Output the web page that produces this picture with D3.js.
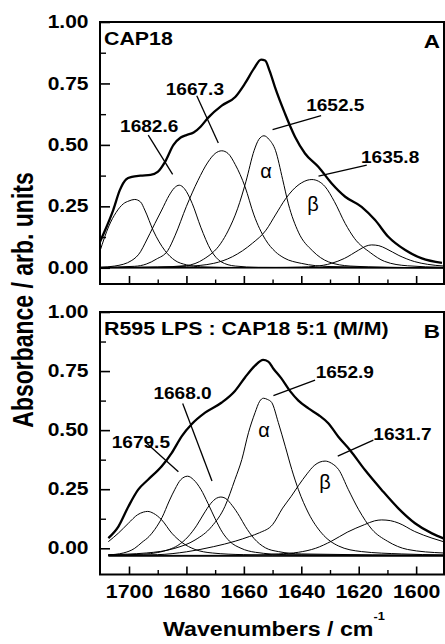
<!DOCTYPE html>
<html>
<head>
<meta charset="utf-8">
<script src="https://cdn.jsdelivr.net/npm/d3@7"></script>
<style>
  body { margin: 0; background: #fff; }
  svg { display: block; }
  text { font-family: "Liberation Sans", Arial, sans-serif; fill: #000; }
</style>
</head>
<body>
<svg id="chart" width="445" height="644"></svg>
<script>
// ---- data (wavenumber, absorbance) ----
const xTicks = [1700, 1680, 1660, 1640, 1620, 1600];
const xMinorTicks = [1690, 1670, 1650, 1630, 1610];
const yTicks = [0, 0.25, 0.5, 0.75, 1.0];
const yMinorTicks = [0.125, 0.375, 0.625, 0.875];

// panel A : CAP18
const envA = [[1710.1,0.106],[1707.7,0.17],[1705.5,0.235],[1703.2,0.316],[1701,0.36],[1699,0.37],[1696,0.375],[1692.5,0.378],[1690,0.39],[1687.5,0.43],[1684.5,0.5],[1682,0.53],[1680,0.54],[1677.5,0.55],[1675,0.575],[1672.5,0.61],[1667.7,0.66],[1663,0.695],[1659.6,0.75],[1656.5,0.81],[1654,0.847],[1652.6,0.843],[1651,0.8],[1649.2,0.736],[1645.7,0.628],[1642.2,0.533],[1638.7,0.465],[1634,0.41],[1629.4,0.343],[1624.7,0.289],[1619,0.248],[1614.3,0.194],[1609.7,0.126],[1603.8,0.072],[1598,0.038],[1591,0.02]];
const bandA1 = [[1710.1,0.068],[1707,0.17],[1704.5,0.225],[1702,0.26],[1700,0.272],[1698,0.278],[1696,0.268],[1694.5,0.235],[1691.5,0.15],[1687.5,0.07],[1684,0.03],[1680,0.012],[1675,0.004],[1660,0.001],[1590.3,0]];
const bandA2 = [[1710.1,0.002],[1705,0.007],[1699,0.03],[1696,0.065],[1694.4,0.1],[1691,0.18],[1688.6,0.235],[1686,0.295],[1684.2,0.325],[1682.5,0.336],[1680.7,0.322],[1678,0.262],[1675,0.165],[1671.5,0.072],[1668,0.025],[1663,0.007],[1655,0.002],[1590.3,0]];
const bandA3 = [[1710.1,0.002],[1698,0.006],[1694,0.015],[1690.5,0.035],[1686.5,0.07],[1684,0.13],[1680,0.25],[1676,0.355],[1672.5,0.43],[1670,0.465],[1667.7,0.476],[1665.5,0.465],[1663,0.42],[1659.6,0.33],[1656.5,0.215],[1652.5,0.115],[1649,0.065],[1646,0.04],[1640,0.018],[1630,0.005],[1590.3,0]];
const bandA4 = [[1710.1,0.001],[1690,0.003],[1680,0.009],[1674,0.035],[1668,0.1],[1665.5,0.15],[1662.2,0.24],[1659.3,0.35],[1656.4,0.478],[1654.8,0.522],[1653,0.537],[1651.2,0.522],[1649,0.478],[1646.5,0.36],[1644.5,0.26],[1641,0.145],[1636,0.068],[1630.5,0.024],[1623,0.007],[1610,0.002],[1590.3,0]];
const bandA5 = [[1710.1,0.001],[1690,0.003],[1680,0.006],[1670.5,0.018],[1664,0.045],[1657,0.1],[1652.3,0.153],[1649,0.215],[1645.5,0.28],[1643,0.316],[1640,0.345],[1638,0.356],[1636.3,0.359],[1634,0.352],[1631.7,0.33],[1628.5,0.27],[1624.7,0.18],[1621.5,0.12],[1616,0.062],[1611,0.026],[1603,0.008],[1590.3,0.002]];
const bandA6 = [[1710.1,0],[1650,0.001],[1640,0.003],[1635,0.006],[1629.5,0.018],[1625,0.038],[1620,0.072],[1617.5,0.088],[1615.5,0.093],[1613,0.09],[1610.5,0.078],[1606,0.05],[1600.5,0.025],[1596,0.014],[1590.3,0.007]];
const baseA = [[1710.1,0],[1590.3,0]];
const peaksA = ['1682.6', '1667.3', '1652.5', '1635.8'];

// panel B : R595 LPS : CAP18 5:1
const envB = [[1707.2,0.043],[1703.7,0.092],[1700.2,0.177],[1696.8,0.248],[1693.3,0.291],[1688.6,0.347],[1685.1,0.404],[1681.6,0.475],[1678.2,0.525],[1673.5,0.574],[1667.7,0.617],[1663.1,0.666],[1659.6,0.723],[1656.1,0.773],[1653.3,0.797],[1651.5,0.79],[1649.7,0.76],[1647,0.72],[1643.9,0.665],[1641,0.625],[1637.5,0.592],[1634,0.564],[1630.6,0.529],[1627.1,0.472],[1623,0.415],[1617.8,0.331],[1612,0.247],[1606.2,0.169],[1600.4,0.106],[1594.5,0.063],[1590.5,0.042]];
const bandB1 = [[1707.2,0.028],[1703.7,0.064],[1700.2,0.106],[1697,0.142],[1695,0.153],[1693.5,0.156],[1691.5,0.148],[1688.6,0.12],[1685.1,0.064],[1681.5,0.024],[1677,-0.005],[1671,-0.02],[1660,-0.027],[1640,-0.03],[1590.5,-0.03]];
const bandB2 = [[1707.2,-0.028],[1702,-0.02],[1698,0],[1695.5,0.025],[1693,0.05],[1691,0.08],[1688.5,0.13],[1686,0.2],[1684,0.25],[1682,0.29],[1679.6,0.305],[1677.5,0.29],[1675,0.25],[1672.5,0.19],[1670,0.125],[1667.5,0.068],[1665,0.03],[1661,0],[1656,-0.017],[1645,-0.027],[1590.5,-0.03]];
const bandB3 = [[1707.2,-0.029],[1695,-0.025],[1690,-0.018],[1686,-0.005],[1683,0.012],[1679.5,0.048],[1676.5,0.095],[1674,0.145],[1671.5,0.19],[1669.5,0.212],[1668,0.217],[1666.5,0.212],[1664,0.18],[1661.5,0.135],[1659.5,0.093],[1656.5,0.042],[1652.5,0.002],[1648,-0.014],[1640,-0.024],[1590.5,-0.03]];
const bandB4 = [[1707.2,-0.027],[1694,-0.02],[1684,0],[1677,0.035],[1671.2,0.092],[1666.6,0.177],[1663.1,0.291],[1660.7,0.376],[1658.4,0.489],[1656.1,0.574],[1654.5,0.622],[1653.2,0.635],[1651.8,0.63],[1650.3,0.617],[1648,0.532],[1645.6,0.432],[1643.3,0.333],[1641,0.248],[1637.5,0.149],[1632.9,0.064],[1627.1,0.01],[1619,-0.014],[1605,-0.024],[1590.5,-0.028]];
const bandB5 = [[1707.2,-0.03],[1690,-0.027],[1680,-0.015],[1670.5,0.007],[1663,0.03],[1658,0.05],[1654.5,0.066],[1650,0.1],[1646.5,0.17],[1643.5,0.22],[1641,0.265],[1638,0.315],[1635.5,0.35],[1633.5,0.365],[1631.7,0.369],[1629.5,0.36],[1627,0.333],[1623.6,0.248],[1620,0.163],[1615.4,0.08],[1610,0.03],[1603,-0.005],[1590.5,-0.02]];
const bandB6 = [[1707.2,-0.03],[1660,-0.03],[1648,-0.024],[1641,-0.017],[1635,0],[1629.5,0.03],[1624,0.068],[1618,0.1],[1614.5,0.116],[1612,0.12],[1609,0.117],[1606,0.106],[1600.5,0.071],[1594.5,0.043],[1590.5,0.028]];
const baseB = [[1707.2,-0.033],[1590.3,-0.033]];
const peaksB = ['1679.5', '1668.0', '1652.9', '1631.7'];

// ---- layout ----
const svg = d3.select('#chart');
const left = 100, right = 444;
const x = d3.scaleLinear().domain([1710.1, 1590.3]).range([left, right]);

const panels = [
  { key: 'A', title: 'CAP18', top: 22, bottom: 284, yDomain: [-0.066, 1.0],
    env: envA, bands: [bandA1, bandA2, bandA3, bandA4, bandA5, bandA6], base: baseA,
    peaks: peaksA,
    // label anchor [wn, abs] and leader line [[wn,abs],[wn,abs]]
    labelPos: [[1703.1,0.554],[1687.2,0.703],[1638.3,0.638],[1619.2,0.425]],
    leaders: [[[1693.3,0.54],[1684.8,0.38]],[[1676.4,0.70],[1668.9,0.508]],[[1650.0,0.562],[1633.1,0.619]],[[1634.0,0.373],[1617.2,0.418]]],
    alpha: [1652.3, 0.365], beta: [1635.9, 0.231], showLabels: false },
  { key: 'B', title: 'R595 LPS : CAP18 5:1 (M/M)', top: 312, bottom: 574.5, yDomain: [-0.111, 1.0],
    env: envB, bands: [bandB1, bandB2, bandB3, bandB4, bandB5, bandB6], base: baseB,
    peaks: peaksB,
    labelPos: [[1706.0,0.424],[1691.5,0.632],[1635.0,0.719],[1614.9,0.458]],
    leaders: [[[1694.4,0.451],[1682.8,0.324]],[[1681.3,0.613],[1671.1,0.285]],[[1649.7,0.646],[1635.2,0.712]],[[1627.3,0.39],[1614.9,0.458]]],
    alpha: [1653.0, 0.471], beta: [1631.7, 0.25], showLabels: true }
];

// text in the figure is wider than plain Arial, so stretch it horizontally
function stretch(sel, px, py, sx) {
  sel.attr('transform', `translate(${px},${py}) scale(${sx},1)`);
}

panels.forEach((p, i) => {
  const y = d3.scaleLinear().domain(p.yDomain).range([p.bottom, p.top]);
  const g = svg.append('g');

  const clipId = 'clip' + i;
  svg.append('clipPath').attr('id', clipId)
    .append('rect').attr('x', left).attr('y', p.top).attr('width', right - left).attr('height', p.bottom - p.top);

  const line = d3.line().x(d => x(d[0])).y(d => y(d[1])).curve(d3.curveMonotoneX);
  const plot = g.append('g').attr('clip-path', `url(#${clipId})`);

  plot.selectAll('path.band').data(p.bands).enter().append('path')
    .attr('class', 'band').attr('d', line)
    .attr('fill', 'none').attr('stroke', '#000').attr('stroke-width', 1);

  plot.append('path').datum(p.base).attr('d', line)
    .attr('fill', 'none').attr('stroke', '#000').attr('stroke-width', 1.6);

  plot.append('path').datum(p.env).attr('d', line)
    .attr('fill', 'none').attr('stroke', '#000').attr('stroke-width', 2.3)
    .attr('stroke-linejoin', 'round');

  // leader lines
  g.selectAll('line.leader').data(p.leaders).enter().append('line')
    .attr('x1', d => x(d[0][0])).attr('y1', d => y(d[0][1]))
    .attr('x2', d => x(d[1][0])).attr('y2', d => y(d[1][1]))
    .attr('stroke', '#000').attr('stroke-width', 1.3);

  // peak labels
  p.peaks.forEach((t, k) => {
    g.append('text').text(t)
      .attr('font-size', 16).attr('font-weight', 'bold')
      .call(stretch, x(p.labelPos[k][0]), y(p.labelPos[k][1]), 1.19);
  });

  // greek band names
  [['\u03b1', p.alpha], ['\u03b2', p.beta]].forEach(([ch, pos]) => {
    g.append('text').text(ch)
      .attr('x', x(pos[0])).attr('y', y(pos[1]))
      .attr('text-anchor', 'middle')
      .attr('font-family', '"Liberation Serif", "DejaVu Serif", serif')
      .attr('font-size', 20);
  });

  // panel title + letter
  g.append('text').text(p.title)
    .attr('font-size', 17.5).attr('font-weight', 'bold')
    .call(stretch, left + 4, p.top + 22.5, 1.22);
  g.append('text').text(p.key)
    .attr('font-size', 18).attr('font-weight', 'bold').attr('text-anchor', 'end')
    .call(stretch, right - 4, p.top + 25.5, 1.25);

  // y axis (ticks inside)
  const yAxis = g.append('g').attr('transform', `translate(${left},0)`)
    .call(d3.axisLeft(y).tickValues(yTicks).tickSize(-10).tickPadding(9.6).tickFormat(d3.format('.2f')));
  yAxis.select('.domain').remove();
  yAxis.selectAll('line').attr('stroke-width', 1.6);
  yAxis.selectAll('text')
    .attr('font-size', 17.5).attr('font-weight', 'bold')
    .attr('font-family', '"Liberation Sans", Arial, sans-serif')
    .attr('transform', 'scale(1.2,1)');

  const yMinor = g.append('g').attr('transform', `translate(${left},0)`)
    .call(d3.axisLeft(y).tickValues(yMinorTicks).tickSize(-6).tickFormat(''));
  yMinor.select('.domain').remove();
  yMinor.selectAll('line').attr('stroke-width', 1.4);

  // x axis (ticks inside)
  const xAxis = g.append('g').attr('transform', `translate(0,${p.bottom})`)
    .call(d3.axisBottom(x).tickValues(xTicks).tickSize(-8).tickPadding(11.4)
      .tickFormat(p.showLabels ? d3.format('d') : ''));
  xAxis.select('.domain').remove();
  xAxis.selectAll('line').attr('stroke-width', 1.6);
  xAxis.selectAll('text')
    .attr('font-size', 17.5).attr('font-weight', 'bold')
    .attr('font-family', '"Liberation Sans", Arial, sans-serif')
    .attr('transform', 'scale(1.22,1)');

  const xMinor = g.append('g').attr('transform', `translate(0,${p.bottom})`)
    .call(d3.axisBottom(x).tickValues(xMinorTicks).tickSize(-4.5).tickFormat(''));
  xMinor.select('.domain').remove();
  xMinor.selectAll('line').attr('stroke-width', 1.4);

  // frame
  g.append('rect')
    .attr('x', left).attr('y', p.top)
    .attr('width', right - left).attr('height', p.bottom - p.top)
    .attr('fill', 'none').attr('stroke', '#000').attr('stroke-width', 2);
});

// axis titles
const xt = svg.append('text')
  .attr('font-size', 20).attr('font-weight', 'bold')
  .call(stretch, 163, 636, 1.16);
xt.append('tspan').text('Wavenumbers / cm');
xt.append('tspan').text('-1').attr('font-size', 11).attr('dy', -16);

svg.append('text').text('Absorbance / arb. units')
  .attr('font-size', 23).attr('font-weight', 'bold').attr('text-anchor', 'middle')
  .attr('transform', 'translate(33,300) scale(1.3,1) rotate(-90)');
</script>
</body>
</html>
